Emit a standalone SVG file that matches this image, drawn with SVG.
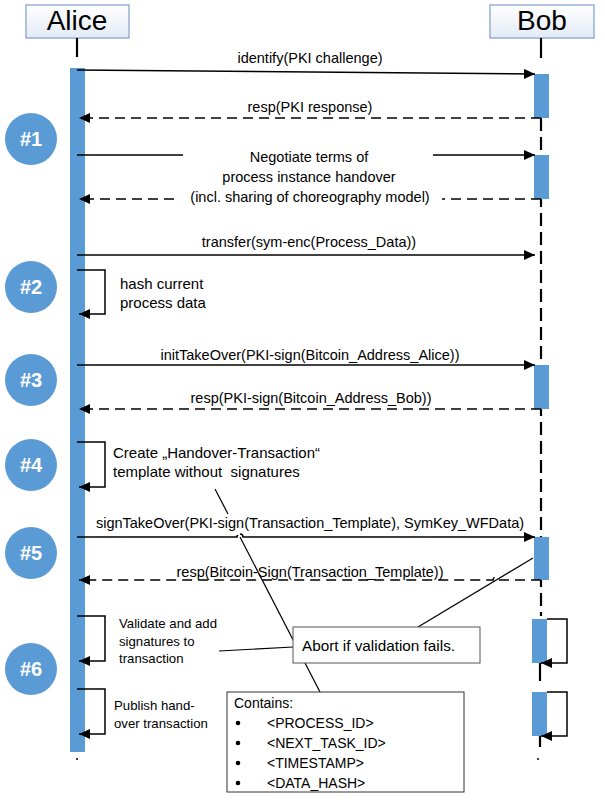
<svg xmlns="http://www.w3.org/2000/svg" width="605" height="805" viewBox="0 0 605 805">
<style>
  text { font-family: "Liberation Sans", Arial, sans-serif; fill: #000; }
  .hdr { font-size: 28px; text-anchor: middle; }
  .msg { font-size: 14.5px; text-anchor: middle; }
  .note { font-size: 15px; white-space: pre; }
  .small { font-size: 13.2px; }
  .box { font-size: 14px; }
  .abort { font-size: 15.3px; }
  .step { font-size: 20px; font-weight: bold; fill: #fff; text-anchor: middle; }
  .bar { fill: #5b9bd5; }
  .circ { fill: #5b9bd5; }
  .solid { stroke: #000; stroke-width: 1.5; fill: none; }
  .dash { stroke: #000; stroke-width: 1.5; fill: none; stroke-dasharray: 10 6; }
  .life { stroke: #000; stroke-width: 2.2; fill: none; }
  .lifedash { stroke: #000; stroke-width: 2.2; fill: none; stroke-dasharray: 13 6; }
  .thin { stroke: #000; stroke-width: 1.2; fill: none; }
</style>
<defs>
  <linearGradient id="hg" x1="0" y1="0" x2="0" y2="1">
    <stop offset="0" stop-color="#ffffff"/>
    <stop offset="1" stop-color="#e4ebf6"/>
  </linearGradient>
  <marker id="ah" markerUnits="userSpaceOnUse" markerWidth="11" markerHeight="10" refX="11" refY="5" orient="auto">
    <path d="M0,0 L11,5 L0,10 z" fill="#000" stroke="none"/>
  </marker>
</defs>

<g id="alice">
  <rect x="26" y="5" width="103" height="33" fill="url(#hg)" stroke="#7f9fca" stroke-width="1.2"/>
  <text class="hdr" x="77" y="30">Alice</text>
  <line class="life" x1="77" y1="38" x2="77" y2="57"/>
  <rect class="bar" x="70" y="68" width="15" height="684"/>
  <circle cx="77" cy="759" r="1" fill="#000"/>
</g>

<g id="bob">
  <rect x="490" y="5" width="104" height="33" fill="url(#hg)" stroke="#7f9fca" stroke-width="1.2"/>
  <text class="hdr" x="542" y="30">Bob</text>
  <line class="life" x1="541" y1="38" x2="541" y2="58"/>
  <line class="lifedash" x1="541" y1="118" x2="541" y2="616"/>
  <line class="life" x1="540" y1="663" x2="540" y2="681"/>
  <line class="life" x1="540" y1="736" x2="540" y2="747"/>
  <rect class="bar" x="534" y="74" width="15" height="44"/>
  <rect class="bar" x="534" y="155" width="15" height="44"/>
  <rect class="bar" x="534" y="365" width="15" height="44"/>
  <rect class="bar" x="534" y="537" width="15" height="43"/>
  <rect class="bar" x="532" y="619" width="15" height="44"/>
  <rect class="bar" x="532" y="692" width="15" height="44"/>
  <circle cx="538" cy="759" r="1" fill="#000"/>
</g>

<g id="steps">
  <g id="step1"><circle class="circ" cx="31" cy="139" r="26"/><text class="step" x="31" y="146">#1</text></g>
  <g id="step2"><circle class="circ" cx="31" cy="287" r="26"/><text class="step" x="31" y="294">#2</text></g>
  <g id="step3"><circle class="circ" cx="31" cy="380" r="26"/><text class="step" x="31" y="387">#3</text></g>
  <g id="step4"><circle class="circ" cx="31" cy="465" r="26"/><text class="step" x="31" y="472">#4</text></g>
  <g id="step5"><circle class="circ" cx="31" cy="553" r="26"/><text class="step" x="31" y="560">#5</text></g>
  <g id="step6"><circle class="circ" cx="31" cy="669" r="26"/><text class="step" x="31" y="676">#6</text></g>
</g>

<g id="connectors">
  <!-- callout lines -->
  <line class="thin" x1="215" y1="489" x2="228" y2="514"/>
  <line class="thin" x1="240" y1="537" x2="320" y2="692"/>
  <line class="thin" x1="533" y1="558" x2="418" y2="627"/>
  <line class="thin" x1="219" y1="651" x2="293" y2="647"/>

  <!-- messages -->
  <path class="solid" d="M77,70 L535,74" marker-end="url(#ah)"/>
  <path class="dash" d="M541,118 H79" marker-end="url(#ah)"/>
  <path class="solid" d="M77,155 H183"/>
  <path class="solid" d="M433,155 H535" marker-end="url(#ah)"/>
  <path class="dash" d="M541,199 H442"/>
  <path class="dash" d="M174,199 H79" marker-end="url(#ah)"/>
  <path class="solid" d="M77,255 H535" marker-end="url(#ah)"/>
  <path class="solid" d="M77,270 H105 V314 H79" marker-end="url(#ah)"/>
  <path class="solid" d="M77,365 H535" marker-end="url(#ah)"/>
  <path class="dash" d="M541,409 H79" marker-end="url(#ah)" stroke-width="2"/>
  <path class="solid" d="M77,442 H105 V487 H79" marker-end="url(#ah)"/>
  <path class="solid" d="M77,537 H237 A3,3 0 0 1 243,537 H535" marker-end="url(#ah)"/>
  <path class="dash" d="M541,580 H499 A3,3 0 0 0 493,580 H79" marker-end="url(#ah)"/>
  <path class="solid" d="M77,616 H105 V661 H79" marker-end="url(#ah)"/>
  <path class="solid" d="M77,689 H105 V734 H79" marker-end="url(#ah)"/>
  <path class="solid" d="M547,619 H567 V663 H541" marker-end="url(#ah)"/>
  <path class="solid" d="M547,692 H567 V736 H541" marker-end="url(#ah)"/>
</g>

<g id="labels">
  <text class="msg" x="310" y="63">identify(PKI challenge)</text>
  <text class="msg" x="310" y="112">resp(PKI response)</text>
  <text class="msg" x="309" y="162">Negotiate terms of</text>
  <text class="msg" x="309" y="182">process instance handover</text>
  <text class="msg" x="310" y="202">(incl. sharing of choreography model)</text>
  <text class="msg" x="309" y="247">transfer(sym-enc(Process_Data))</text>
  <text class="note" x="120" y="289">hash current</text>
  <text class="note" x="120" y="308">process data</text>
  <text class="msg" x="310" y="360">initTakeOver(PKI-sign(Bitcoin_Address_Alice))</text>
  <text class="msg" x="311" y="403">resp(PKI-sign(Bitcoin_Address_Bob))</text>
  <text class="note" x="113" y="458">Create „Handover-Transaction“</text>
  <text class="note" x="113" y="477">template without  signatures</text>
  <rect x="228" y="514" width="12" height="21" fill="#fff"/>
  <text class="msg" x="310" y="528">signTakeOver(PKI-sign(Transaction_Template), SymKey_WFData)</text>
  <text class="msg" x="310" y="577">resp(Bitcoin-Sign(Transaction_Template))</text>
  <text class="note small" x="119" y="628">Validate and add</text>
  <text class="note small" x="119" y="646">signatures to</text>
  <text class="note small" x="119" y="663">transaction</text>
  <text class="note small" x="114" y="710">Publish hand-</text>
  <text class="note small" x="114" y="728">over transaction</text>
</g>

<g id="abort">
  <rect x="293" y="627" width="187" height="36" fill="#fff" stroke="#555" stroke-width="1"/>
  <text class="abort" x="302" y="651">Abort if validation fails.</text>
</g>

<g id="contains">
  <rect x="227" y="692" width="237" height="100" fill="#fff" stroke="#333" stroke-width="1"/>
  <text class="box" x="234" y="708">Contains:</text>
  <circle cx="238" cy="723" r="2.3" fill="#000"/>
  <circle cx="238" cy="743" r="2.3" fill="#000"/>
  <circle cx="238" cy="763" r="2.3" fill="#000"/>
  <circle cx="238" cy="783" r="2.3" fill="#000"/>
  <text class="box" x="267" y="728">&lt;PROCESS_ID&gt;</text>
  <text class="box" x="267" y="748">&lt;NEXT_TASK_ID&gt;</text>
  <text class="box" x="267" y="768">&lt;TIMESTAMP&gt;</text>
  <text class="box" x="267" y="788">&lt;DATA_HASH&gt;</text>
</g>
</svg>
